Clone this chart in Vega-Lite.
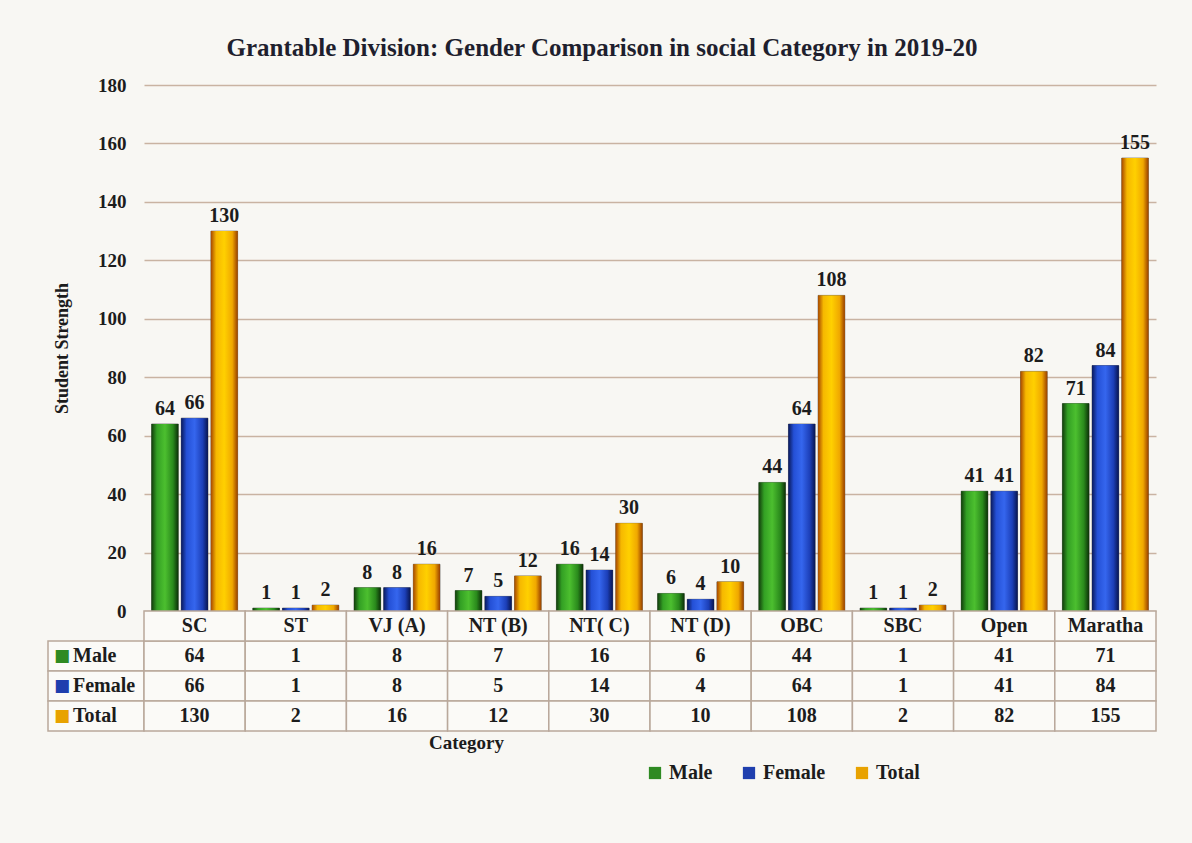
{
  "$schema": "https://vega.github.io/schema/vega-lite/v6.json",
  "background": "#f8f7f3",
  "padding": {"left": 47, "top": 36, "right": 37, "bottom": 63},
  "title": {"text": "Grantable Division: Gender Comparison in social Category in 2019-20", "font": "Liberation Serif", "fontSize": 25, "fontWeight": "bold", "color": "#1f1f2e", "anchor": "middle", "offset": 15},
  "config": {"font": "Liberation Serif", "view": {"stroke": null}},
  "datasets": {
    "d": [
      {"category": "SC", "series": "Male", "value": 64},
      {"category": "SC", "series": "Female", "value": 66},
      {"category": "SC", "series": "Total", "value": 130},
      {"category": "ST", "series": "Male", "value": 1},
      {"category": "ST", "series": "Female", "value": 1},
      {"category": "ST", "series": "Total", "value": 2},
      {"category": "VJ (A)", "series": "Male", "value": 8},
      {"category": "VJ (A)", "series": "Female", "value": 8},
      {"category": "VJ (A)", "series": "Total", "value": 16},
      {"category": "NT (B)", "series": "Male", "value": 7},
      {"category": "NT (B)", "series": "Female", "value": 5},
      {"category": "NT (B)", "series": "Total", "value": 12},
      {"category": "NT( C)", "series": "Male", "value": 16},
      {"category": "NT( C)", "series": "Female", "value": 14},
      {"category": "NT( C)", "series": "Total", "value": 30},
      {"category": "NT (D)", "series": "Male", "value": 6},
      {"category": "NT (D)", "series": "Female", "value": 4},
      {"category": "NT (D)", "series": "Total", "value": 10},
      {"category": "OBC", "series": "Male", "value": 44},
      {"category": "OBC", "series": "Female", "value": 64},
      {"category": "OBC", "series": "Total", "value": 108},
      {"category": "SBC", "series": "Male", "value": 1},
      {"category": "SBC", "series": "Female", "value": 1},
      {"category": "SBC", "series": "Total", "value": 2},
      {"category": "Open", "series": "Male", "value": 41},
      {"category": "Open", "series": "Female", "value": 41},
      {"category": "Open", "series": "Total", "value": 82},
      {"category": "Maratha", "series": "Male", "value": 71},
      {"category": "Maratha", "series": "Female", "value": 84},
      {"category": "Maratha", "series": "Total", "value": 155}
    ]
  },
  "columns": 2,
  "bounds": "flush",
  "align": "each",
  "spacing": 0,
  "resolve": {"scale": {"color": "shared"}, "legend": {"color": "shared"}},
  "concat": [
    {
      "width": 96, "height": 526,
      "data": {"values": [{"a": 1}]},
      "mark": {"type": "point", "opacity": 0},
      "encoding": {}
    },
    {
      "width": 1012, "height": 526,
      "data": {"name": "d"},
      "encoding": {
        "x": {"field": "category", "type": "nominal", "scale": {"domain": ["SC", "ST", "VJ (A)", "NT (B)", "NT( C)", "NT (D)", "OBC", "SBC", "Open", "Maratha"], "paddingInner": 0.15, "paddingOuter": 0.075}, "axis": null},
        "xOffset": {"field": "series", "type": "nominal", "scale": {"domain": ["Male", "Female", "Total"], "paddingInner": 0.1}},
        "y": {"field": "value", "type": "quantitative", "scale": {"domain": [0, 180]},
          "axis": {"values": [0, 20, 40, 60, 80, 100, 120, 140, 160, 180], "title": "Student Strength", "grid": true, "gridColor": "#c9b3a2", "gridWidth": 1.5, "domain": false, "ticks": false, "labelFont": "Liberation Serif", "labelFontSize": 19, "labelFontWeight": "bold", "labelColor": "#1c1c1c", "labelPadding": 18, "titleFont": "Liberation Serif", "titleFontSize": 18, "titleFontWeight": "bold", "titleColor": "#1c1c1c", "titlePadding": 26}}
      },
      "layer": [
        {
          "mark": {"type": "bar", "stroke": "#222222", "strokeWidth": 0.5},
          "encoding": {
            "color": {"field": "series", "type": "nominal", "scale": {"domain": ["Male", "Female", "Total"], "range": ["#2f8a22", "#1f3fae", "#e8a200"]},
              "legend": {"orient": "none", "legendX": 597, "legendY": 678, "direction": "horizontal", "title": null, "symbolType": "square", "symbolSize": 150, "symbolStrokeWidth": 0, "labelFont": "Liberation Serif", "labelFontSize": 20, "labelFontWeight": "bold", "labelColor": "#1c1c1c", "columnPadding": 26, "labelOffset": 4}}
          }
        },
        {
          "transform": [{"filter": "datum.series === 'Male'"}],
          "mark": {"type": "bar", "fill": {"gradient": "linear", "x1": 0, "y1": 0, "x2": 1, "y2": 0, "stops": [{"offset": 0, "color": "#123d0c"}, {"offset": 0.2, "color": "#33a024"}, {"offset": 0.5, "color": "#4cbf2f"}, {"offset": 0.8, "color": "#2a8a1c"}, {"offset": 1, "color": "#0c3008"}]}}
        },
        {
          "transform": [{"filter": "datum.series === 'Female'"}],
          "mark": {"type": "bar", "fill": {"gradient": "linear", "x1": 0, "y1": 0, "x2": 1, "y2": 0, "stops": [{"offset": 0, "color": "#0a1a5c"}, {"offset": 0.2, "color": "#2450d6"}, {"offset": 0.5, "color": "#3566ee"}, {"offset": 0.8, "color": "#1c3fb8"}, {"offset": 1, "color": "#081550"}]}}
        },
        {
          "transform": [{"filter": "datum.series === 'Total'"}],
          "mark": {"type": "bar", "fill": {"gradient": "linear", "x1": 0, "y1": 0, "x2": 1, "y2": 0, "stops": [{"offset": 0, "color": "#a84800"}, {"offset": 0.2, "color": "#f6b800"}, {"offset": 0.5, "color": "#ffd000"}, {"offset": 0.8, "color": "#f0a800"}, {"offset": 1, "color": "#9a4000"}]}}
        },
        {
          "mark": {"type": "text", "baseline": "bottom", "dy": -5, "fontSize": 20, "fontWeight": "bold", "color": "#1c1c1c", "font": "Liberation Serif"},
          "encoding": {"text": {"field": "value", "type": "quantitative"}}
        }
      ]
    },
    {
      "width": 96, "height": 120,
      "data": {"name": "d"},
      "transform": [{"aggregate": [{"op": "count", "as": "n"}], "groupby": ["series"]}],
      "encoding": {
        "y": {"field": "series", "type": "nominal", "scale": {"domain": ["header", "Male", "Female", "Total"], "paddingInner": 0, "paddingOuter": 0}, "axis": null}
      },
      "layer": [
        {"mark": {"type": "rect", "fill": "#fbfaf7", "stroke": "#b9a89b", "strokeWidth": 1.5}},
        {"mark": {"type": "text", "text": "■", "font": "DejaVu Sans", "align": "left", "dx": -42, "fontSize": 17},
          "encoding": {"color": {"field": "series", "type": "nominal", "scale": {"domain": ["Male", "Female", "Total"], "range": ["#2f8a22", "#1f3fae", "#e8a200"]}, "legend": null}}},
        {"mark": {"type": "text", "align": "left", "dx": -23, "fontSize": 20, "fontWeight": "bold", "color": "#1c1c1c", "font": "Liberation Serif"},
          "encoding": {"text": {"field": "series", "type": "nominal"}}}
      ]
    },
    {
      "width": 1012, "height": 120,
      "data": {"name": "d"},
      "encoding": {
        "x": {"field": "category", "type": "nominal", "scale": {"domain": ["SC", "ST", "VJ (A)", "NT (B)", "NT( C)", "NT (D)", "OBC", "SBC", "Open", "Maratha"], "paddingInner": 0, "paddingOuter": 0},
          "axis": {"labels": false, "ticks": false, "domain": false, "title": "Category", "titleX": 322, "titlePadding": 2, "titleFont": "Liberation Serif", "titleFontSize": 19, "titleFontWeight": "bold", "titleColor": "#1c1c1c"}}
      },
      "layer": [
        {
          "mark": {"type": "rect", "fill": "#fbfaf7", "stroke": "#b9a89b", "strokeWidth": 1.5},
          "encoding": {"y": {"field": "series", "type": "nominal", "scale": {"domain": ["header", "Male", "Female", "Total"], "paddingInner": 0, "paddingOuter": 0}, "axis": null}}
        },
        {
          "transform": [{"aggregate": [{"op": "count", "as": "n"}], "groupby": ["category"]}],
          "mark": {"type": "rect", "fill": "#fbfaf7", "stroke": "#b9a89b", "strokeWidth": 1.5},
          "encoding": {"y": {"datum": "header", "type": "nominal"}}
        },
        {
          "mark": {"type": "text", "fontSize": 20, "fontWeight": "bold", "color": "#1c1c1c", "font": "Liberation Serif"},
          "encoding": {"y": {"field": "series", "type": "nominal"}, "text": {"field": "value", "type": "quantitative"}}
        },
        {
          "transform": [{"aggregate": [{"op": "count", "as": "n"}], "groupby": ["category"]}],
          "mark": {"type": "text", "fontSize": 20, "fontWeight": "bold", "color": "#1c1c1c", "font": "Liberation Serif"},
          "encoding": {"y": {"datum": "header", "type": "nominal"}, "text": {"field": "category", "type": "nominal"}}
        }
      ]
    }
  ]
}
